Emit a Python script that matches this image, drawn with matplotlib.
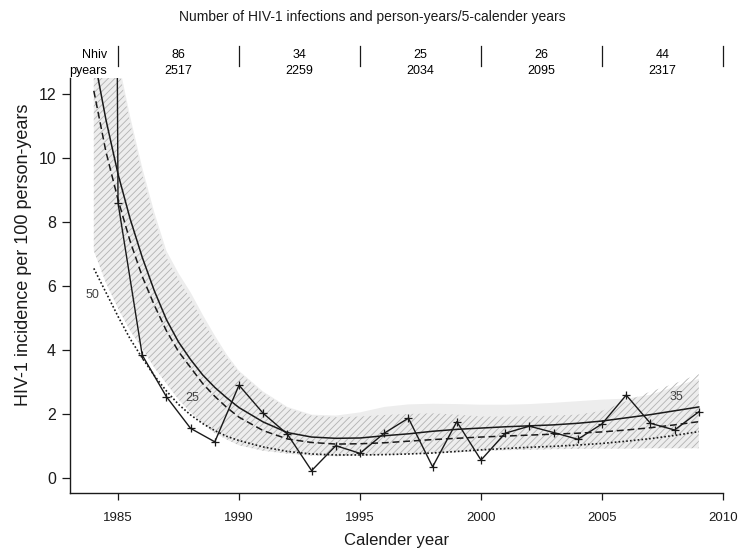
import numpy as np
import matplotlib
matplotlib.use("Agg")
import matplotlib.pyplot as plt
from matplotlib.transforms import blended_transform_factory

plt.rcParams['font.family'] = ['Liberation Sans', 'DejaVu Sans']
plt.rcParams['hatch.linewidth'] = 0.6

# ---------------- data ----------------
obs_years = [1984, 1985, 1986, 1987, 1988, 1989, 1990, 1991, 1992, 1993, 1994, 1995, 1996,
             1997, 1998, 1999, 2000, 2001, 2002, 2003, 2004, 2005, 2006, 2007, 2008, 2009]
obs_rate = [150.0, 8.6, 3.84, 2.54, 1.55, 1.13, 2.9, 2.02, 1.37, 0.23, 1.01, 0.77, 1.40,
            1.87, 0.35, 1.76, 0.56, 1.40, 1.62, 1.42, 1.21, 1.69, 2.59, 1.71, 1.50, 2.07]

fit_years = [1984, 1984.5, 1985, 1985.5, 1986, 1986.5, 1987, 1987.5, 1988, 1988.5, 1989, 1989.5,
             1990, 1991, 1992, 1993, 1994, 1995, 1996, 1997, 1998, 1999, 2000, 2001, 2002,
             2003, 2004, 2005, 2006, 2007, 2008, 2009]
fit_solid = [13.2, 11.2, 9.5, 8.1, 6.9, 5.85, 4.95, 4.25, 3.7, 3.22, 2.83, 2.5,
             2.2, 1.75, 1.42, 1.28, 1.24, 1.25, 1.32, 1.38, 1.46, 1.52, 1.56, 1.60, 1.63,
             1.66, 1.71, 1.78, 1.88, 1.98, 2.10, 2.22]
fit_dashed = [12.1, 10.2, 8.7, 7.4, 6.3, 5.4, 4.6, 3.95, 3.45, 2.95, 2.55, 2.2,
              1.9, 1.48, 1.22, 1.11, 1.06, 1.07, 1.10, 1.15, 1.20, 1.24, 1.28, 1.31, 1.34,
              1.37, 1.40, 1.44, 1.50, 1.57, 1.66, 1.76]
fit_dotted = [6.55, 5.8, 5.05, 4.35, 3.75, 3.2, 2.72, 2.3, 1.97, 1.7, 1.48, 1.3,
              1.17, 0.97, 0.83, 0.75, 0.72, 0.72, 0.73, 0.75, 0.78, 0.83, 0.88, 0.92, 0.96,
              0.99, 1.03, 1.08, 1.15, 1.23, 1.33, 1.45]
band_upper = [17.0, 14.8, 12.9, 11.1, 9.5, 8.1, 6.9, 6.2, 5.6, 4.9, 4.3, 3.75,
              3.3, 2.65, 2.18, 1.95, 1.90, 1.92, 1.97, 2.00, 2.02, 1.98, 1.92, 1.92, 1.93,
              1.95, 1.98, 2.10, 2.40, 2.70, 2.95, 3.25]
band_lower = [7.1, 6.1, 5.3, 4.6, 4.05, 3.45, 2.95, 2.45, 2.05, 1.7, 1.4, 1.2,
              1.02, 0.85, 0.76, 0.70, 0.68, 0.70, 0.72, 0.74, 0.77, 0.80, 0.84, 0.87, 0.88,
              0.90, 0.91, 0.92, 0.92, 0.93, 0.93, 0.93]
band2_upper = [17.2, 15.0, 13.1, 11.3, 9.7, 8.3, 7.1, 6.4, 5.8, 5.1, 4.45, 3.85,
               3.35, 2.7, 2.22, 1.98, 1.95, 2.05, 2.22, 2.30, 2.32, 2.31, 2.29, 2.29, 2.31,
               2.35, 2.40, 2.45, 2.48, 2.60, 2.85, 3.10]

group_edges = [1985, 1990, 1995, 2000, 2005, 2010]
group_nhiv = ['86', '34', '25', '26', '44']
group_pyears = ['2517', '2259', '2034', '2095', '2317']

curve_labels = ['50', '25', '35']
curve_label_x = [1983.93, 1988.05, 2008.06]
curve_label_y = [5.72, 2.5, 2.53]

# ---------------- figure ----------------
fig = plt.figure(figsize=(7.41, 5.49), dpi=100)
ax = fig.add_axes([70/741, 1-493/549, 653/741, 415/549])

ax.fill_between(fit_years, band_lower, band2_upper, facecolor='#ededed', edgecolor='none',
                linewidth=0, zorder=1)
ax.fill_between(fit_years, band_lower, band_upper, facecolor='none', edgecolor='#b2b2b2',
                hatch='/////', linewidth=0, zorder=2)

ax.plot(fit_years, fit_solid, color='#1a1a1a', lw=1.1, zorder=4)
ax.plot(fit_years, fit_dashed, color='#1a1a1a', lw=1.1, ls=(0, (4.5, 2.5)), zorder=4)
ax.plot(fit_years, fit_dotted, color='#1a1a1a', lw=1.2, ls=(0, (1, 1.3)), zorder=4)
ax.plot(obs_years, obs_rate, color='#1a1a1a', lw=1.0, marker='+', ms=6, mew=0.9, zorder=5)

for lab, lx, ly in zip(curve_labels, curve_label_x, curve_label_y):
    ax.text(lx, ly, lab, fontsize=9, color='#444444', ha='center', va='center', zorder=6)

ax.set_xlim(1983.016, 2010.0)
ax.set_ylim(-0.469, 12.5)

ax.set_xticks([1985, 1990, 1995, 2000, 2005, 2010])
ax.set_yticks([0, 2, 4, 6, 8, 10, 12])
ax.tick_params(axis='x', direction='out', length=5, width=0.9, labelsize=9.5, pad=9, colors='#1a1a1a')
ax.tick_params(axis='y', direction='out', length=6, width=0.9, labelsize=11.5, pad=4, colors='#1a1a1a')
for s in ['top', 'right']:
    ax.spines[s].set_visible(False)
for s in ['left', 'bottom']:
    ax.spines[s].set_linewidth(1.0)
    ax.spines[s].set_color('#1a1a1a')

ax.set_xlabel('Calender year', fontsize=12, labelpad=6, color='#1a1a1a')
ax.set_ylabel('HIV-1 incidence per 100 person-years', fontsize=13, color='#1a1a1a')
ax.yaxis.set_label_coords(-0.058, 0.573)

# header
fig.text(372/741, 1-17/549, 'Number of HIV-1 infections and person-years/5-calender years',
         fontsize=10, ha='center', va='center', color='#1a1a1a')
tr = blended_transform_factory(ax.transData, fig.transFigure)
y1, y2 = 1-55/549, 1-71/549
ax.text(1984.55, y1, 'Nhiv', transform=tr, fontsize=9, ha='right', va='center', clip_on=False)
ax.text(1984.55, y2, 'pyears', transform=tr, fontsize=9, ha='right', va='center', clip_on=False)
for e in group_edges:
    ax.plot([e, e], [1-46/549, 1-66/549], transform=tr, color='#1a1a1a', lw=0.9, clip_on=False)
for i in range(len(group_nhiv)):
    mid = (group_edges[i] + group_edges[i+1]) / 2
    ax.text(mid, y1, group_nhiv[i], transform=tr, fontsize=9, ha='center', va='center', clip_on=False)
    ax.text(mid, y2, group_pyears[i], transform=tr, fontsize=9, ha='center', va='center', clip_on=False)

fig.savefig('out.png', dpi=100)
